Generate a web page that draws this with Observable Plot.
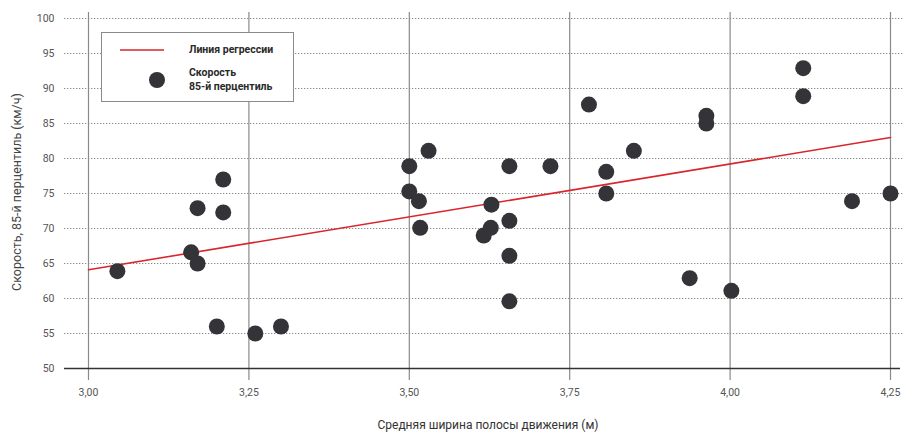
<!DOCTYPE html>
<html>
<head>
<meta charset="utf-8">
<script src="https://cdn.jsdelivr.net/npm/d3@7"></script>
<script src="https://cdn.jsdelivr.net/npm/@observablehq/plot@0.6"></script>
<style>
  body { margin: 0; background: #fff; }
  #wrap { position: relative; width: 904px; height: 434px; font-family: Roboto, "Noto Sans", sans-serif; }
  #legend { position: absolute; left: 101px; top: 32px; width: 193px; height: 70px; box-sizing: border-box;
    border: 1px solid #8a8a8a; background: #fff; }
  #legend .t { position: absolute; font-weight: bold; font-size: 10.5px; color: #2a2a2a; line-height: 14px; }
</style>
</head>
<body>
<div id="wrap">
  <div id="chart"></div>
  <div id="legend">
    <svg width="191" height="68" style="position:absolute;left:0;top:0">
      <line x1="18" x2="62" y1="17" y2="17" stroke="#d9252b" stroke-width="1.6"></line>
      <circle cx="55" cy="47" r="8" fill="#333338"></circle>
    </svg>
    <div class="t" style="left:87px;top:10px">Линия регрессии</div>
    <div class="t" style="left:87px;top:33px">Скорость<br>85-й перцентиль</div>
  </div>
</div>
<script>
const laneWidth = [3.045, 3.16, 3.17, 3.17, 3.21, 3.21, 3.20, 3.26, 3.30, 3.50, 3.50, 3.515, 3.517, 3.53, 3.616, 3.627, 3.628, 3.656, 3.656, 3.656, 3.656, 3.72, 3.78, 3.807, 3.807, 3.85, 3.937, 3.963, 3.963, 4.002, 4.114, 4.114, 4.19, 4.25];
const speed85 = [63.9, 66.6, 72.9, 65.0, 77.0, 72.3, 56.0, 55.0, 56.0, 78.9, 75.3, 73.9, 70.1, 81.1, 69.0, 70.1, 73.4, 78.9, 71.1, 66.1, 59.6, 78.9, 87.7, 78.1, 75.0, 81.1, 62.9, 86.1, 85.0, 61.1, 92.9, 88.9, 73.9, 75.0];
const regX = [3.0, 4.25];
const regY = [64.1, 83.0];
const xTicks = [3.0, 3.25, 3.5, 3.75, 4.0, 4.25];
const xTickLabels = ["3,00", "3,25", "3,50", "3,75", "4,00", "4,25"];
const yTicks = [50, 55, 60, 65, 70, 75, 80, 85, 90, 95, 100];
const xLabel = "Средняя ширина полосы движения (м)";
const yLabel = "Скорость, 85-й перцентиль (км/ч)";

const points = laneWidth.map((x, i) => ({x, y: speed85[i]}));
const reg = regX.map((x, i) => ({x, y: regY[i]}));

const plot = Plot.plot({
  width: 904,
  height: 434,
  marginTop: 18,
  marginBottom: 66,
  marginLeft: 88,
  marginRight: 14,
  style: {background: "#fff", fontFamily: "Roboto, 'Noto Sans', sans-serif", fontSize: "10.5px", color: "#555"},
  x: {domain: [3, 4.25], ticks: xTicks, tickSize: 0, tickPadding: 20,
      tickFormat: d => xTickLabels[xTicks.indexOf(d)], label: null},
  y: {domain: [50, 100], ticks: yTicks, tickSize: 0, tickPadding: 34, label: null},
  marks: [
    Plot.ruleY(yTicks.filter(d => d > 50), {stroke: "#8a8a8a", strokeWidth: 1, strokeDasharray: "1.3,1.7", insetLeft: -24, insetRight: -14}),
    Plot.ruleX(xTicks, {stroke: "#8a8a8a", strokeWidth: 1.2, insetTop: -6, insetBottom: -12}),
    Plot.ruleY([50], {stroke: "#333", strokeWidth: 1.5, insetLeft: -24, insetRight: -10}),
    Plot.line(reg, {x: "x", y: "y", stroke: "#d9252b", strokeWidth: 1.6}),
    Plot.dot(points, {x: "x", y: "y", r: 8, fill: "#333338", stroke: "none"})
  ]
});
document.getElementById("chart").appendChild(plot);

const svg = d3.select(plot);
svg.append("text")
  .attr("x", 488).attr("y", 429)
  .attr("text-anchor", "middle")
  .attr("fill", "#333").attr("font-size", "12px")
  .text(xLabel);
svg.append("text")
  .attr("transform", "translate(21,192) rotate(-90)")
  .attr("text-anchor", "middle")
  .attr("fill", "#444").attr("font-size", "12.5px")
  .text(yLabel);
</script>
</body>
</html>
